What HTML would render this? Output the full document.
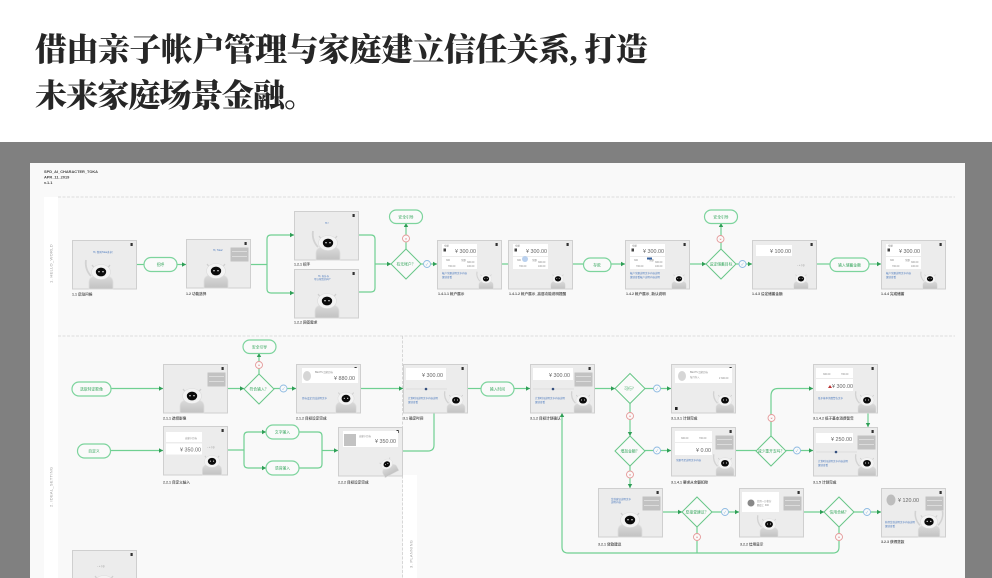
<!DOCTYPE html>
<html lang="zh">
<head>
<meta charset="utf-8">
<title>家庭金融流程图</title>
<style>
html,body{margin:0;padding:0;background:#fff;width:992px;height:578px;overflow:hidden}
svg{display:block}
text{font-family:"Liberation Sans","Noto Sans CJK SC",sans-serif}
.title{font-family:"Liberation Serif","Noto Serif CJK SC",serif;font-weight:900;font-size:32px;fill:#262626}
.hd{font-size:3.9px;fill:#444;font-weight:bold}
.side{font-size:4px;fill:#999;letter-spacing:.3px}
.lb{font-size:3.6px;fill:#555;font-weight:bold}
.c{fill:none;stroke:#70d092;stroke-width:1.2}
.a{marker-end:url(#ar)}
.p{fill:#fafafa;stroke:#7dd49d;stroke-width:1.2}
.d{fill:#fafafa;stroke:#68c688;stroke-width:1}
.g{font-size:3.8px;fill:#35a65c;text-anchor:middle}
.rc{fill:#fafafa;stroke:#e59a9a;stroke-width:.9}
.rt{font-size:4px;fill:#d8605f;text-anchor:middle}
.bc{fill:#fafafa;stroke:#8fbbe2;stroke-width:.9}
.bt{font-size:3.6px;fill:#5d9bd6;text-anchor:middle}
.amt{font-size:5.4px;fill:#666;text-anchor:end}
.sm{font-size:2.4px;fill:#888}
.bl{font-size:2.5px;fill:#4a78bd}
.w{fill:#fff}
.box{fill:#c2c2c2}
#dia{filter:blur(.35px)}
</style>
</head>
<body>
<svg width="992" height="578" viewBox="0 0 992 578" xmlns="http://www.w3.org/2000/svg">
<defs>
<marker id="ar" markerUnits="userSpaceOnUse" markerWidth="5" markerHeight="5" refX="4" refY="2.5" orient="auto"><path d="M0 .3L4 2.5L0 4.7z" fill="#2f9e56"/></marker>
<linearGradient id="bg" x1="0" y1="0" x2="0" y2="1"><stop offset="0" stop-color="#dcdcdc"/><stop offset="1" stop-color="#c2c2c2"/></linearGradient>
<g id="f"><rect x=".5" y=".5" width="64" height="48.5" fill="#ececec" stroke="#cfcfcf" stroke-width="1"/><rect x="58.500" y="3" width="2.200" height="3" fill="#333"/></g>
<g id="r">
<path d="M-12 0V-7C-12 -12 -6 -14 0 -14S12 -12 12 -7V0z" fill="url(#bg)" stroke="#dedede" stroke-width=".8"/>
<path d="M-9 -24L-6 -20M9 -24L6 -20" stroke="#cfcfcf" stroke-width="1.2"/>
<ellipse cx="0" cy="-17" rx="9.5" ry="7.5" fill="#f3f3f3" stroke="#dcdcdc" stroke-width=".6"/>
<ellipse cx="0" cy="-17" rx="5.2" ry="4.4" fill="#0b0b0b"/>
<circle cx="-2" cy="-17.3" r=".7" fill="#fff"/><circle cx="2" cy="-17.3" r=".7" fill="#fff"/>
</g>
<path id="arm" d="M-10 -13C-14 -17 -16 -23 -15 -29" fill="none" stroke="#d2d2d2" stroke-width="1.8"/>
<g id="acc">
<rect class="w" x="5" y="4" width="35" height="12"/><rect class="w" x="5" y="17" width="35" height="12"/>
<rect x="6.500" y="8.500" width="2.500" height="3" fill="#444"/>
<text class="sm" x="7" y="6.500">余额</text>
<text class="sm" x="9" y="21">300</text><text class="sm" x="24" y="21">余额</text><text class="sm" x="30" y="23">300.00</text>
<text class="sm" x="11" y="27">700.00</text><text class="sm" x="30" y="27">100.00</text>
</g>
<g id="bx"><rect class="box" x="44.500" y="8.500" width="18" height="14"/><path d="M46 12.500H61M46 17.500H61" stroke="#e5e5e5" stroke-width=".8"/></g>
<g id="sl"><path d="M3 25H44" stroke="#cfcfcf" stroke-width=".5"/><circle cx="23" cy="25" r="1.300" fill="#35507e"/></g>
</defs>

<rect width="992" height="578" fill="#fff"/>
<text class="title" x="35" y="60.500" textLength="613" lengthAdjust="spacing">借由亲子帐户管理与家庭建立信任关系, 打造</text>
<text class="title" x="35" y="106.500" textLength="281" lengthAdjust="spacing">未来家庭场景金融。</text>

<rect x="0" y="142" width="992" height="436" fill="#808080"/>
<g id="dia">
<rect x="30" y="163" width="935" height="415" fill="#f9f9f9"/>
<rect x="44" y="197" width="14" height="381" fill="#fff"/>
<rect x="403" y="475" width="14" height="103" fill="#fff"/>
<path d="M58 197H955M58 336H955" stroke="#d4d4d4" stroke-width=".8" stroke-dasharray="3 1.500"/>
<path d="M402.500 336V578" stroke="#cfcfcf" stroke-width=".8" stroke-dasharray="3 1.500"/>

<text class="hd" x="44" y="173">SPD_AI_CHARACTER_TOKA</text>
<text class="hd" x="44" y="178.500">APR_11_2019</text>
<text class="hd" x="44" y="184">v.1.1</text>
<text class="side" transform="translate(52.500,283) rotate(-90)">1. HELLO_WORLD</text>
<text class="side" transform="translate(52.500,507) rotate(-90)">2. IDEAL_SETTING</text>
<text class="side" transform="translate(412.500,568) rotate(-90)">3. PLANNING</text>

<!-- connectors row 1 -->
<path class="c" d="M137 264.500H144"/>
<path class="c a" d="M177 264.500H186"/>
<path class="c" d="M250 264.500H267"/>
<path class="c a" d="M267 264.500V239Q267 235 271 235H294"/>
<path class="c a" d="M267 264.500V289Q267 293 271 293H294"/>
<path class="c" d="M358 235H371Q375 235 375 239V288Q375 292 371 292H358"/>
<path class="c a" d="M375 264H391"/>
<path class="c a" d="M406 249V223"/>
<path class="c a" d="M421 264H437"/>
<path class="c" d="M502 264H508M573 264H583"/>
<path class="c a" d="M611 264H625"/>
<path class="c a" d="M690 264H706"/>
<path class="c a" d="M721 249V223"/>
<path class="c a" d="M736 264H752"/>
<path class="c" d="M817 264H830"/>
<path class="c a" d="M869 264H881"/>

<!-- connectors row 2 -->
<path class="c a" d="M111 388.500H163"/>
<path class="c a" d="M227 388.500H244"/>
<path class="c a" d="M259 374V353"/>
<path class="c a" d="M274 388.500H296"/>
<path class="c a" d="M360 388.500H403"/>
<path class="c" d="M467 388.500H481"/>
<path class="c a" d="M514 388.500H530"/>
<path class="c a" d="M594 388.500H615"/>
<path class="c a" d="M645 388.500H671"/>
<path class="c a" d="M630 403.500V436"/>
<path class="c a" d="M630 466V488"/>
<path class="c a" d="M645 450.500H671"/>
<path class="c a" d="M111 450.500H163"/>
<path class="c" d="M227 450H244"/>
<path class="c a" d="M244 450V436Q244 432 248 432H266"/>
<path class="c a" d="M244 450V464Q244 468 248 468H266"/>
<path class="c" d="M299 432H318Q322 432 322 436V464Q322 468 318 468H299"/>
<path class="c a" d="M322 450.500H338"/>
<path class="c" d="M402 451H428Q434 451 434 445V413"/>
<path class="c" d="M736 450.500H756"/>
<path class="c a" d="M771 436V396Q771 388.500 778 388.500H813"/>
<path class="c a" d="M786 450.500H813"/>
<path class="c a" d="M868 413V427"/>
<path class="c a" d="M662 512H682"/>
<path class="c a" d="M712 512H739"/>
<path class="c a" d="M804 512H824"/>
<path class="c a" d="M854 512H881"/>
<path class="c a" d="M839 527V547Q839 553 833 553H568Q562 553 562 547V413"/>
<path class="c" d="M697 527V553"/>

<!-- pills -->
<rect class="p" x="144" y="257.500" width="33" height="14" rx="7"/><text class="g" x="160.500" y="266">招呼</text>
<rect class="p" x="389.500" y="210" width="33" height="13.500" rx="6.700"/><text class="g" x="406" y="218.300">安全引导</text>
<rect class="p" x="583.500" y="258" width="27.500" height="13.500" rx="6.700"/><text class="g" x="597" y="266.300">存款</text>
<rect class="p" x="704.500" y="210" width="33" height="13.500" rx="6.700"/><text class="g" x="721" y="218.300">安全引导</text>
<rect class="p" x="830" y="258" width="39" height="13.500" rx="6.700"/><text class="g" x="849.500" y="266.300">输入储蓄金额</text>
<rect class="p" x="72" y="382" width="39" height="14" rx="7"/><text class="g" x="91.500" y="390.500">选取特定影像</text>
<rect class="p" x="77.500" y="444" width="33" height="14" rx="7"/><text class="g" x="94" y="452.500">自定义</text>
<rect class="p" x="243" y="340" width="33" height="13.500" rx="6.700"/><text class="g" x="259.500" y="348.300">安全引导</text>
<rect class="p" x="266" y="425" width="33" height="14" rx="7"/><text class="g" x="282.500" y="433.500">文字输入</text>
<rect class="p" x="266" y="461" width="33" height="14" rx="7"/><text class="g" x="282.500" y="469.500">语音输入</text>
<rect class="p" x="481" y="382" width="33" height="14" rx="7"/><text class="g" x="497.500" y="390.500">输入时间</text>

<!-- diamonds -->
<path class="d" d="M406 249L421 264L406 279L391 264z"/><text class="g" x="406" y="265.500">有无帐户？</text>
<path class="d" d="M721 249L736 264L721 279L706 264z"/><text class="g" x="721" y="265.500">设定储蓄目标</text>
<path class="d" d="M259 374L274 389L259 404L244 389z"/><text class="g" x="259" y="390.500">符合输入？</text>
<path class="d" d="M630 373.500L645 388.500L630 403.500L615 388.500z"/><text class="g" x="630" y="390">可行？</text>
<path class="d" d="M630 436L645 451L630 466L615 451z"/><text class="g" x="630" y="452.500">增加金额？</text>
<path class="d" d="M771 436L786 451L771 466L756 451z"/><text class="g" x="771" y="452.500">减少重开支吗？</text>
<path class="d" d="M697 497L712 512L697 527L682 512z"/><text class="g" x="697" y="513.500">愿接受建议？</text>
<path class="d" d="M839 497L854 512L839 527L824 512z"/><text class="g" x="839" y="513.500">信用合格？</text>

<!-- red/blue circles -->
<circle class="rc" cx="406" cy="238.500" r="3.500"/><text class="rt" x="406" y="240">×</text>
<circle class="rc" cx="720.500" cy="239" r="3.500"/><text class="rt" x="720.500" y="240.500">×</text>
<circle class="rc" cx="259" cy="365" r="3.500"/><text class="rt" x="259" y="366.500">×</text>
<circle class="rc" cx="630" cy="416" r="3.500"/><text class="rt" x="630" y="417.500">×</text>
<circle class="rc" cx="630" cy="474.500" r="3.500"/><text class="rt" x="630" y="476">×</text>
<circle class="rc" cx="771.500" cy="418" r="3.500"/><text class="rt" x="771.500" y="419.500">×</text>
<circle class="rc" cx="697" cy="537" r="3.500"/><text class="rt" x="697" y="538.500">×</text>
<circle class="rc" cx="839" cy="537" r="3.500"/><text class="rt" x="839" y="538.500">×</text>
<circle class="bc" cx="427" cy="264" r="3.500"/><text class="bt" x="427" y="265.300">✓</text>
<circle class="bc" cx="742.500" cy="264" r="3.500"/><text class="bt" x="742.500" y="265.300">✓</text>
<circle class="bc" cx="283.500" cy="388.500" r="3.500"/><text class="bt" x="283.500" y="389.800">✓</text>
<circle class="bc" cx="657" cy="388.500" r="3.500"/><text class="bt" x="657" y="389.800">✓</text>
<circle class="bc" cx="657" cy="450.500" r="3.500"/><text class="bt" x="657" y="451.800">✓</text>
<circle class="bc" cx="797" cy="450.500" r="3.500"/><text class="bt" x="797" y="451.800">✓</text>
<circle class="bc" cx="725" cy="512" r="3.500"/><text class="bt" x="725" y="513.300">✓</text>
<circle class="bc" cx="867" cy="512" r="3.500"/><text class="bt" x="867" y="513.300">✓</text>

<!-- screens -->
<g transform="translate(72,240)"><use href="#f"/><text class="bl" x="21" y="13">Hi, 我叫Toka多多！</text><g transform="translate(29,49)"><use href="#r"/><use href="#arm"/></g></g>
<g transform="translate(186,239)"><use href="#f"/><text class="bl" x="27" y="12">Hi, Toka!</text><use href="#bx"/><g transform="translate(30,49)"><use href="#r"/></g></g>
<g transform="translate(294,211)"><use href="#f"/><text class="bl" x="31" y="13">Hi !</text><g transform="translate(34,49)"><use href="#r"/><use href="#arm"/></g></g>
<g transform="translate(294,269)"><use href="#f"/><text class="bl" x="24" y="8">Hi, 有什么</text><text class="bl" x="20" y="11">可以帮您的吗?</text><g transform="translate(33,49)"><use href="#r"/></g></g>

<g transform="translate(437,240)"><use href="#f"/><use href="#acc"/><text class="amt" x="39" y="13">¥ 300.00</text><text class="bl" x="5" y="34">帐户余额说明文字内容</text><text class="bl" x="5" y="38">继续查看</text><g transform="translate(49,49) scale(.6)"><use href="#r"/><use href="#arm"/></g></g>
<g transform="translate(508,240)"><use href="#f"/><use href="#acc"/><circle cx="17" cy="19" r="3" fill="#b9d0ee"/><text class="amt" x="39" y="13">¥ 300.00</text><g transform="translate(50,49) scale(.6)"><use href="#r"/></g></g>
<g transform="translate(625,240)"><use href="#f"/><use href="#acc"/><rect x="22" y="17.500" width="5" height="2" fill="#35609e"/><text class="amt" x="39" y="13">¥ 300.00</text><text class="bl" x="5" y="34">帐户余额说明文字内容说明</text><text class="bl" x="5" y="38">继续查看帐户说明内容说明</text><g transform="translate(54,49) scale(.6)"><use href="#r"/></g></g>
<g transform="translate(752,240)"><use href="#f"/><rect class="w" x="4" y="5" width="36" height="11"/><text class="amt" x="39" y="13">¥ 100.00</text><text class="sm" x="45" y="26">− + | ⊕</text><g transform="translate(49,49) scale(.6)"><use href="#r"/></g></g>
<g transform="translate(881,240)"><use href="#f"/><use href="#acc"/><text class="amt" x="39" y="13">¥ 300.00</text><text class="bl" x="5" y="34">帐户余额说明文字内容</text><text class="bl" x="5" y="38">继续查看</text><g transform="translate(49,49) scale(.6)"><use href="#r"/><use href="#arm"/></g></g>

<g transform="translate(163,364)"><use href="#f"/><use href="#bx"/><g transform="translate(29,49)"><use href="#r"/></g></g>
<g transform="translate(296,364)"><use href="#f"/><rect class="w" x="6" y="4" width="56" height="15"/><ellipse cx="11" cy="12" rx="4" ry="5" fill="#d6d6d6"/><text class="sm" x="19" y="9">BEATS 耳机目标</text><text class="amt" x="59" y="16">¥ 880.00</text><text class="bl" x="6" y="35">目标设定完成说明文字</text><g transform="translate(50,49) scale(.85)"><use href="#r"/></g></g>
<g transform="translate(163,426)"><use href="#f"/><rect class="w" x="3" y="6" width="36" height="10"/><rect class="w" x="3" y="17.500" width="36" height="11"/><text class="sm" x="22" y="13">自建小目标</text><text class="amt" x="38" y="25.500">¥ 350.00</text><text class="sm" x="44" y="22">− + | ⊕</text><g transform="translate(49,49) scale(.8)"><use href="#r"/></g></g>
<g transform="translate(338,427)"><use href="#f"/><rect class="w" x="5" y="4" width="55" height="16"/><rect class="box" x="6" y="7" width="12" height="12"/><text class="sm" x="21" y="10">自建小目标</text><text class="amt" x="58" y="16">¥ 350.00</text><g transform="translate(54,47) rotate(-28) scale(.65)"><use href="#r"/></g></g>

<g transform="translate(403,364)"><use href="#f"/><rect class="w" x="3" y="4" width="40" height="12"/><text class="amt" x="40" y="13">¥ 300.00</text><use href="#sl"/><text class="bl" x="5" y="35">计划时间说明文字内容说明</text><text class="bl" x="5" y="39">继续查看</text><g transform="translate(53,49) scale(.75)"><use href="#r"/><use href="#arm"/></g></g>
<g transform="translate(530,364)"><use href="#f"/><rect class="w" x="3" y="4" width="40" height="12"/><text class="amt" x="40" y="13">¥ 300.00</text><use href="#bx"/><use href="#sl"/><text class="bl" x="5" y="35">计划时间说明文字内容说明</text><text class="bl" x="5" y="39">继续查看</text><g transform="translate(53,49) scale(.75)"><use href="#r"/><use href="#arm"/></g></g>
<g transform="translate(598,488)"><use href="#f"/><text class="bl" x="13" y="12">贷款建议说明文字</text><text class="bl" x="13" y="15">说明内容</text><use href="#bx"/><g transform="translate(32,49)"><use href="#r"/></g></g>
<g transform="translate(671,364)"><use href="#f"/><rect class="w" x="4" y="4" width="57" height="15"/><ellipse cx="11" cy="12" rx="4" ry="5" fill="#d6d6d6"/><text class="sm" x="19" y="9">BEATS 耳机目标</text><text class="sm" x="19" y="14">每月存入</text><text class="sm" x="48" y="15">¥ 300.00</text><rect x="4" y="43" width="2.600" height="3" fill="#222"/><g transform="translate(54,49) scale(.75)"><use href="#r"/><use href="#arm"/></g></g>
<g transform="translate(671,427)"><use href="#f"/><rect class="w" x="4" y="4" width="37" height="11"/><rect class="w" x="4" y="16" width="37" height="12"/><text class="sm" x="10" y="12">300.00</text><text class="sm" x="28" y="12">700.00</text><text class="amt" x="40" y="25">¥ 0.00</text><use href="#bx"/><text class="bl" x="5" y="34">余额不足说明文字内容</text><g transform="translate(54,49) scale(.75)"><use href="#r"/><use href="#arm"/></g></g>
<g transform="translate(813,364)"><use href="#f"/><rect class="w" x="3" y="4" width="37" height="10"/><rect class="w" x="3" y="15" width="37" height="12"/><text class="sm" x="10" y="11">300.00</text><text class="sm" x="28" y="11">700.00</text><path d="M15 24L17 21L19 24z" fill="#b33"/><text class="amt" x="40" y="24">¥ 300.00</text><text class="bl" x="5" y="35">低于基本消费警告文字</text><g transform="translate(54,49) scale(.75)"><use href="#r"/><use href="#arm"/></g></g>
<g transform="translate(813,427)"><use href="#f"/><rect class="w" x="3" y="6" width="37" height="10"/><text class="amt" x="39" y="14">¥ 250.00</text><use href="#bx"/><use href="#sl"/><text class="bl" x="5" y="35">计划时间说明文字内容说明</text><text class="bl" x="5" y="39">继续查看</text><g transform="translate(54,49) scale(.75)"><use href="#r"/><use href="#arm"/></g></g>
<g transform="translate(739,488)"><use href="#f"/><rect class="w" x="3" y="4" width="37" height="20"/><circle cx="12" cy="15" r="3.500" fill="#888"/><text class="sm" x="18" y="14">信用一万积分</text><text class="sm" x="18" y="18">额度上 300</text><use href="#bx"/><g transform="translate(30,49) scale(.75)"><use href="#r"/><use href="#arm"/></g></g>
<g transform="translate(881,488)"><use href="#f"/><ellipse cx="10" cy="12" rx="4.500" ry="5.500" fill="#bdbdbd"/><text class="amt" x="38" y="14">¥ 120.00</text><use href="#bx"/><text class="bl" x="4" y="35">获得贷款说明文字内容说明</text><text class="bl" x="4" y="39">继续查看</text><g transform="translate(48,49) scale(.9)"><use href="#r"/><use href="#arm"/><path d="M10 -13C14 -17 16 -23 15 -29" fill="none" stroke="#d2d2d2" stroke-width="1.800"/></g></g>
<g transform="translate(72,550)"><use href="#f"/><text class="sm" x="25" y="17">− + | ⊕</text><g transform="translate(32,50)"><use href="#r"/></g></g>

<!-- captions -->
<text class="lb" x="72" y="295.500">1.1 启动问候</text>
<text class="lb" x="186" y="295">1.2 功能选择</text>
<text class="lb" x="294" y="265.500">1.2.1 招手</text>
<text class="lb" x="294" y="323.500">1.2.2 回答需求</text>
<text class="lb" x="438" y="295">1.4.1.1 帐户展示</text>
<text class="lb" x="509" y="295">1.4.1.2 帐户展示_高居功能说明提醒</text>
<text class="lb" x="626" y="295">1.4.2 帐户展示_新认说明</text>
<text class="lb" x="752" y="295">1.4.3 设定储蓄金额</text>
<text class="lb" x="881" y="295">1.4.4 完成储蓄</text>
<text class="lb" x="163" y="419.500">2.1.1 选择影像</text>
<text class="lb" x="296" y="419.500">2.1.2 目标设定完成</text>
<text class="lb" x="163" y="483.500">2.2.1 自定义输入</text>
<text class="lb" x="338" y="483.500">2.2.2 目标设定完成</text>
<text class="lb" x="403" y="419.500">3.1 确定时间</text>
<text class="lb" x="530" y="419.500">3.1.2 目标计划确认</text>
<text class="lb" x="671" y="419.500">3.1.3.1 计划完成</text>
<text class="lb" x="671" y="483.500">3.1.4.1 要求从余额扣除</text>
<text class="lb" x="813" y="419.500">3.1.4.2 低于基本消费警告</text>
<text class="lb" x="813" y="483.500">3.1.5 计划完成</text>
<text class="lb" x="598" y="545.500">3.2.1 贷款建议</text>
<text class="lb" x="740" y="545.500">3.2.2 信用显示</text>
<text class="lb" x="881" y="543">3.2.3 获得贷款</text>
</g>
</svg>
</body>
</html>
